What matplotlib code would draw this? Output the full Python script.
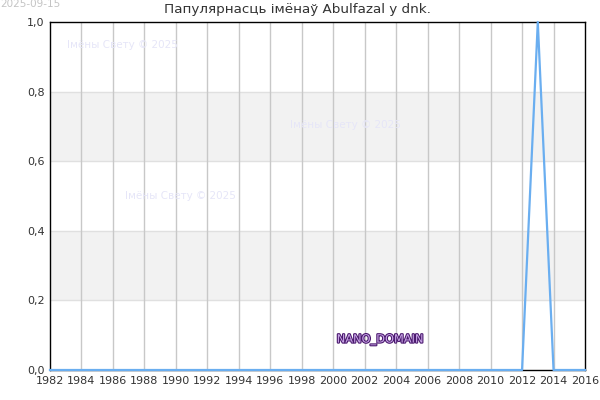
import matplotlib
matplotlib.use("Agg")
import matplotlib.pyplot as plt
import matplotlib.patheffects as pe
from matplotlib.ticker import FuncFormatter

years = list(range(1982, 2017))
values = [0.0] * len(years)
values[years.index(2013)] = 1.0

title = "Папулярнасць імёнаў Abulfazal у dnk."
date_text = "2025-09-15"
watermark = "Імёны Свету © 2025"
xticks = list(range(1982, 2017, 2))
yticks = [0.0, 0.2, 0.4, 0.6, 0.8, 1.0]

fig = plt.figure(figsize=(6, 4), dpi=100)
ax = fig.add_axes([50 / 600, 30 / 400, 535 / 600, 348 / 400])

# alternating bands
for lo, hi in [(0.2, 0.4), (0.6, 0.8)]:
    ax.axhspan(lo, hi, color="#f2f2f2", zorder=0, lw=0)
for y in [0.2, 0.4, 0.6, 0.8]:
    ax.axhline(y, color="#e0e0e0", lw=1, zorder=0.5)
for x in xticks[1:-1]:
    ax.axvline(x, color="#c8c8c8", lw=1, zorder=0.6)

ax.plot(years, values, color="#6aaef0", lw=1.6, zorder=3, clip_on=False)

ax.set_xlim(1982, 2016)
ax.set_ylim(0, 1)
ax.set_xticks(xticks)
ax.set_yticks(yticks)
ax.yaxis.set_major_formatter(FuncFormatter(lambda v, p: f"{v:.1f}".replace(".", ",")))
ax.tick_params(length=0, labelsize=8, colors="#333333", pad=4)
for s in ax.spines.values():
    s.set_color("black")
    s.set_linewidth(1)

fig.text(297 / 600, 1 - 10 / 400, title, ha="center", va="center", fontsize=9.7, color="#333333")
fig.text(0.0, 1 - 4 / 400, date_text, ha="left", va="center", fontsize=7.5, color="#c4c4c4")

for px, py in [(67, 45), (290, 125), (125, 196)]:
    fig.text(px / 600, 1 - py / 400, watermark, ha="left", va="center",
             fontsize=7.5, color="#e6e6f8", zorder=1)

fig.text(380 / 600, 1 - 340 / 400, "NANO_DOMAIN", ha="center", va="center",
         fontsize=8.2, color="#c9a6e8",
         path_effects=[pe.withStroke(linewidth=1.6, foreground="#4b1a6e")])

fig.savefig("out.png", dpi=100)
